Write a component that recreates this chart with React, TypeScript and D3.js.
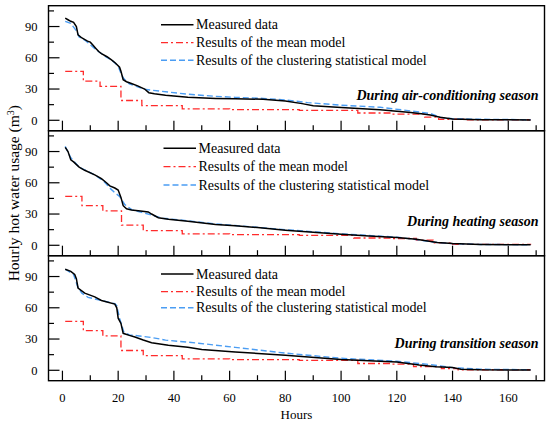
import React from "react";
import * as d3 from "d3";

// [hour, m3]
const acMeasured: [number, number][] = [
  [1, 98], [2, 96.5], [3, 95], [4, 94], [5, 90], [5.6, 82], [7, 79], [9, 76], [10, 75], [11, 72],
  [12, 69], [13, 66], [14, 64], [16, 61], [17.6, 58], [19, 55], [20.5, 51], [21, 47], [21.8, 39],
  [23, 37], [24.5, 35.5], [27, 33], [29.5, 30], [31, 26.5], [33, 25.5], [37, 24], [45, 22],
  [55, 21], [62, 20.6], [72, 20.2], [80, 18.5], [86, 16], [90, 14], [100, 12.3], [114, 10],
  [125, 7.5], [129.5, 6], [132, 5], [135.5, 3], [140, 1.2], [150, 0.6], [168, 0.3],
];
const acCluster: [number, number][] = [
  [1, 95], [3, 93], [5, 86], [6, 80], [8, 77], [12, 68], [15, 62], [18, 57], [20, 52], [21, 45],
  [22, 40], [24, 35], [27, 32], [30, 29.5], [35, 28], [45, 25], [55, 23], [62, 22], [72, 21],
  [80, 19.5], [88, 17], [100, 14.5], [114, 12.5], [125, 9], [132, 6.5], [136, 2.6], [140, 1.5],
  [150, 1], [168, 0.5],
];
const acMean: [number, number][] = [
  [1, 47], [7.5, 37.5], [13.5, 32.5], [21, 19], [28.5, 14], [43, 11], [60, 10.3], [85, 9.5],
  [106, 7], [118, 6], [130, 3], [135, 1], [145, 0.5], [168, 0.5],
];

const heatMeasured: [number, number][] = [
  [1, 94], [2, 90], [3, 82], [4, 80], [6, 75], [8, 72], [11.6, 67.6], [14, 64], [15.8, 60],
  [17, 57], [18.8, 55], [20, 53], [21, 46], [21.8, 38], [23, 35], [24.8, 33.8], [28, 33],
  [30.8, 32], [32, 30], [34.4, 26.5], [38, 25], [45, 23], [55, 20], [62, 18.7], [70, 17],
  [80, 14.5], [90, 12.5], [100, 10.6], [110, 9], [120, 7.4], [127, 5.8], [134.5, 2.6], [140, 1.6],
  [150, 0.8], [168, 0.4],
];
const heatCluster: [number, number][] = [
  [1, 95], [3, 84], [6, 75], [9, 71], [12, 67], [15, 61], [17, 55], [19, 50], [20.5, 47],
  [22.4, 39], [25, 34], [28, 32], [32, 29], [36, 26], [45, 23.5], [55, 20.5], [62, 19], [80, 15],
  [100, 11], [120, 7.8], [127, 5.5], [134, 2.8], [140, 1.6], [150, 0.8], [168, 0.5],
];
const heatMean: [number, number][] = [
  [1, 47], [7, 38], [14.5, 33], [21.2, 19.3], [29, 14], [43, 11], [60, 10.3], [85, 9.5],
  [104.5, 7], [118, 6.5], [127, 5], [133, 2.3], [140, 0.8], [168, 0.5],
];

const transMeasured: [number, number][] = [
  [1, 97], [3, 95], [4.4, 92], [5, 88], [5.6, 79], [8, 74], [11.6, 70.5], [14, 67], [18.8, 63.5],
  [19.5, 60], [20, 50], [21, 45], [21.8, 35.5], [24, 33.5], [26, 32], [29, 29], [32, 26.4],
  [38, 24], [45, 22], [50, 20], [62, 17.5], [80, 14.5], [100, 10.3], [120, 8], [128, 5],
  [134, 3.5], [140, 2.6], [143, 1], [150, 0.5], [168, 0.3],
];
const transCluster: [number, number][] = [
  [1, 97], [4, 92], [5.5, 80], [7, 74], [9.2, 70], [14, 67], [18.8, 64], [19.5, 62], [20.5, 50],
  [22, 37], [24, 34], [26, 33.5], [32, 31.5], [37, 29], [48.8, 26], [62, 22], [80, 16.5],
  [100, 11.5], [120, 8.7], [132, 5.5], [140, 2.6], [150, 1], [168, 0.5],
];
const transMean: [number, number][] = [
  [1, 47], [7.5, 38], [14.5, 33], [21, 19], [29, 14], [43, 11], [60, 10.3], [85, 9.5],
  [106, 6.5], [118, 6], [126, 3.5], [136, 1.6], [142, 0.5], [168, 0.5],
];

const seasons = ["During air-conditioning season", "During heating season", "During transition season"];
const legendLabels = ["Measured data", "Results of the mean model", "Results of the clustering statistical model"];
const xMajor = [0, 20, 40, 60, 80, 100, 120, 140, 160];
const xMinor = [10, 30, 50, 70, 90, 110, 130, 150, 170];
const yMajor = [0, 30, 60, 90];
const yMinor = [15, 45, 75, 105];

const panels = [
  { measured: acMeasured, cluster: acCluster, mean: acMean, legendX: 161, legendY: [19, 37, 54.5], seasonY: 94.3 },
  { measured: heatMeasured, cluster: heatCluster, mean: heatMean, legendX: 163.5, legendY: [17.6, 36, 54.3], seasonY: 95.3 },
  { measured: transMeasured, cluster: transCluster, mean: transMean, legendX: 161, legendY: [18.3, 36, 52], seasonY: 92 },
];

const W = 550, H = 423;
const left = 48.5, right = 544.5, top = 5.7, panelH = 125;
const font = "'Liberation Serif', 'Times New Roman', serif";
const RED = "#ff2b2b", BLUE = "#4b9df3";

export default function App() {
  const x = d3.scaleLinear().domain([-5, 173]).range([left, right]);
  const y = d3.scaleLinear().domain([-10, 110]).range([panelH, 0]);
  const line = d3.line<[number, number]>().x(d => x(d[0])).y(d => y(d[1]));
  const step = d3.line<[number, number]>().x(d => x(d[0])).y(d => y(d[1])).curve(d3.curveStepAfter);
  const styles = [
    { stroke: "#000", width: 1.5, dash: undefined },
    { stroke: RED, width: 1.3, dash: "7,3,2,3" },
    { stroke: BLUE, width: 1.4, dash: "6,3" },
  ];

  return (
    <div style={{ position: "absolute", left: 0, top: 0 }}>
      <svg width={W} height={H} style={{ display: "block", background: "#fff" }} fontFamily={font}>
        {panels.map((p, i) => {
          const ty = top + i * panelH;
          return (
            <g key={i} transform={`translate(0,${ty})`}>
              <path d={step(p.mean) || ""} fill="none" stroke={RED} strokeWidth={1.3} strokeDasharray="7,3,2,3" />
              <path d={line(p.cluster) || ""} fill="none" stroke={BLUE} strokeWidth={1.4} strokeDasharray="6,3" />
              <path d={line(p.measured) || ""} fill="none" stroke="#000" strokeWidth={1.5} />
              <rect x={left} y={0} width={right - left} height={panelH} fill="none" stroke="#000" strokeWidth={1.4} />
              {xMajor.map(t => (
                <line key={"xM" + t} x1={x(t)} x2={x(t)} y1={panelH} y2={panelH - 10} stroke="#000" strokeWidth={1.2} />
              ))}
              {xMinor.map(t => (
                <line key={"xm" + t} x1={x(t)} x2={x(t)} y1={panelH} y2={panelH - 5.5} stroke="#000" strokeWidth={1.2} />
              ))}
              {yMajor.map(t => (
                <g key={"yM" + t}>
                  <line x1={left} x2={left + 11} y1={y(t)} y2={y(t)} stroke="#000" strokeWidth={1.2} />
                  <text x={37.5} y={y(t)} dy="0.35em" textAnchor="end" fontSize={12.5}>{t}</text>
                </g>
              ))}
              {yMinor.map(t => (
                <line key={"ym" + t} x1={left} x2={left + 5.5} y1={y(t)} y2={y(t)} stroke="#000" strokeWidth={1.2} />
              ))}
              {legendLabels.map((lab, j) => (
                <g key={lab} transform={`translate(0,${p.legendY[j]})`}>
                  <line x1={p.legendX} x2={p.legendX + 32.5} y1={0} y2={0} stroke={styles[j === 0 ? 0 : j === 1 ? 1 : 2].stroke}
                    strokeWidth={styles[j].width} strokeDasharray={styles[j].dash} />
                  <text x={p.legendX + 35} y={0} dy="0.33em" fontSize={14}>{lab}</text>
                </g>
              ))}
              <text x={538.5} y={p.seasonY} textAnchor="end" fontSize={14} fontWeight="bold" fontStyle="italic">
                {seasons[i]}
              </text>
            </g>
          );
        })}
        {xMajor.map(t => (
          <text key={"xl" + t} x={x(t)} y={top + 3 * panelH + 21} textAnchor="middle" fontSize={12.5}>{t}</text>
        ))}
        <text x={296.5} y={419} textAnchor="middle" fontSize={13}>Hours</text>
        <text transform={`translate(18.5,${top + 1.5 * panelH}) rotate(-90)`} textAnchor="middle" fontSize={15.5}>
          Hourly  hot water usage (m<tspan dy="-5" fontSize={10}>3</tspan><tspan dy="5">)</tspan>
        </text>
      </svg>
    </div>
  );
}
